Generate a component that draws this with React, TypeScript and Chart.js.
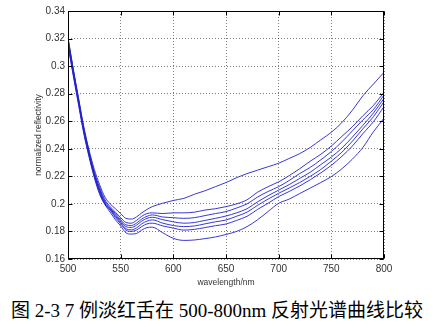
import React, { useEffect, useRef } from "react";
import { Chart, registerables } from "chart.js";

Chart.register(...registerables);

const wavelengths = [500, 505, 510, 515, 520, 525, 530, 535, 540, 545, 550, 555, 560, 565, 570, 575, 580,
  590, 600, 610, 620, 630, 640, 650, 660, 670, 680, 690, 700, 710, 720, 730, 740, 750, 760, 770, 780, 790, 800];

const seriesA = [0.321, 0.298, 0.277, 0.256, 0.239, 0.225, 0.214, 0.205, 0.2, 0.1965, 0.193, 0.1895, 0.189, 0.1905, 0.1935, 0.196, 0.198,
  0.2005, 0.2025, 0.204, 0.207, 0.2095, 0.2125, 0.2155, 0.219, 0.222, 0.2245, 0.227, 0.2295, 0.233, 0.2365, 0.241, 0.2465, 0.252, 0.259, 0.268, 0.2785, 0.287, 0.2955];
const seriesB = [0.319, 0.297, 0.276, 0.255, 0.238, 0.223, 0.212, 0.203, 0.198, 0.194, 0.19, 0.1865, 0.186, 0.188, 0.191, 0.193, 0.1935,
  0.193, 0.1935, 0.1935, 0.194, 0.1955, 0.1965, 0.198, 0.2, 0.203, 0.2085, 0.2125, 0.216, 0.2205, 0.2255, 0.231, 0.236, 0.242, 0.249, 0.256, 0.264, 0.2715, 0.281];
const seriesC = [0.318, 0.296, 0.275, 0.254, 0.237, 0.222, 0.211, 0.202, 0.197, 0.193, 0.1885, 0.1848, 0.1843, 0.186, 0.189, 0.191, 0.192,
  0.1905, 0.19, 0.1895, 0.19, 0.1915, 0.193, 0.1944, 0.197, 0.2, 0.205, 0.209, 0.2125, 0.217, 0.222, 0.2265, 0.232, 0.238, 0.245, 0.253, 0.261, 0.2685, 0.279];
const seriesD = [0.317, 0.295, 0.274, 0.253, 0.236, 0.221, 0.21, 0.201, 0.1965, 0.192, 0.1875, 0.1835, 0.1829, 0.1845, 0.1875, 0.1895, 0.1903,
  0.1885, 0.187, 0.186, 0.1865, 0.188, 0.1895, 0.1912, 0.1935, 0.1965, 0.2015, 0.206, 0.21, 0.214, 0.2185, 0.223, 0.2285, 0.234, 0.2405, 0.2485, 0.257, 0.266, 0.2766];
const seriesE = [0.32, 0.297, 0.275, 0.254, 0.236, 0.221, 0.209, 0.2, 0.196, 0.191, 0.1865, 0.182, 0.1812, 0.1825, 0.1855, 0.1875, 0.1884,
  0.186, 0.1843, 0.1835, 0.184, 0.1855, 0.187, 0.1883, 0.191, 0.194, 0.199, 0.2035, 0.2077, 0.2115, 0.2155, 0.22, 0.225, 0.231, 0.2375, 0.2455, 0.2545, 0.2633, 0.2742];
const seriesF = [0.316, 0.294, 0.273, 0.252, 0.235, 0.22, 0.208, 0.2, 0.1955, 0.19, 0.1855, 0.181, 0.18, 0.181, 0.1835, 0.1855, 0.186,
  0.184, 0.1824, 0.181, 0.1815, 0.1828, 0.1842, 0.1854, 0.188, 0.191, 0.196, 0.2005, 0.2053, 0.209, 0.213, 0.2175, 0.2225, 0.228, 0.2345, 0.242, 0.251, 0.2597, 0.2706];
const seriesG = [0.315, 0.293, 0.272, 0.251, 0.234, 0.219, 0.207, 0.1995, 0.194, 0.1885, 0.184, 0.179, 0.1781, 0.1785, 0.181, 0.1828, 0.1831,
  0.179, 0.175, 0.1735, 0.1738, 0.1748, 0.176, 0.1778, 0.18, 0.1835, 0.1885, 0.1945, 0.2004, 0.2035, 0.2075, 0.2115, 0.2155, 0.2198, 0.2255, 0.2325, 0.241, 0.2524, 0.2621];

const allSeries = [seriesA, seriesB, seriesC, seriesD, seriesE, seriesF, seriesG];

const xTicks = [500, 550, 600, 650, 700, 750, 800];
const yTicks = [0.16, 0.18, 0.2, 0.22, 0.24, 0.26, 0.28, 0.3, 0.32, 0.34];

const xTitle = "wavelength/nm";
const yTitle = "normalized reflectivity";
const caption = "图 2-3 7 例淡红舌在 500-800nm 反射光谱曲线比较";

const boxPlugin = {
  id: "matlabBox",
  afterDraw(chart: any) {
    const { ctx, chartArea } = chart;
    const { left, right, top, bottom } = chartArea;
    const xs = chart.scales.x;
    const ys = chart.scales.y;
    ctx.save();
    ctx.strokeStyle = "#000";
    ctx.lineWidth = 1;
    const L = Math.round(left) + 0.5;
    const R = Math.round(right) - 0.5;
    const T = Math.round(top) + 0.5;
    const B = Math.round(bottom) - 0.5;
    ctx.strokeRect(L, T, R - L, B - T);
    ctx.beginPath();
    const len = 4;
    xTicks.forEach((v) => {
      const px = Math.round(xs.getPixelForValue(v)) + 0.5;
      ctx.moveTo(px, B);
      ctx.lineTo(px, B - len);
      ctx.moveTo(px, T);
      ctx.lineTo(px, T + len);
    });
    yTicks.forEach((v) => {
      const py = Math.round(ys.getPixelForValue(v)) + 0.5;
      ctx.moveTo(L, py);
      ctx.lineTo(L + len, py);
      ctx.moveTo(R, py);
      ctx.lineTo(R - len, py);
    });
    ctx.stroke();
    ctx.restore();
  },
};

export default function App() {
  const ref = useRef<HTMLCanvasElement | null>(null);

  useEffect(() => {
    if (!ref.current) return;
    const datasets = allSeries.map((s) => ({
      data: wavelengths.map((w, i) => ({ x: w, y: s[i] })),
      borderColor: "rgba(35,35,205,0.9)",
      borderWidth: 1,
      pointRadius: 0,
      cubicInterpolationMode: "monotone" as const,
      fill: false,
    }));
    const tickFont = { family: "'Liberation Sans', Arial, sans-serif", size: 10 };
    const titleFont = { family: "'Liberation Sans', Arial, sans-serif", size: 8.5 };
    const chart = new Chart(ref.current, {
      type: "line",
      data: { datasets },
      options: {
        animation: false,
        responsive: false,
        maintainAspectRatio: false,
        layout: { padding: { left: 32, top: 11, right: 50, bottom: 0 } },
        plugins: { legend: { display: false }, tooltip: { enabled: false } },
        scales: {
          x: {
            type: "linear",
            min: 500,
            max: 800,
            afterBuildTicks: (s: any) => {
              s.ticks = xTicks.map((v) => ({ value: v }));
            },
            afterFit: (s: any) => {
              s.height = 31;
            },
            grid: { color: "rgba(0,0,0,0.5)", lineWidth: 1, drawTicks: false },
            border: { display: false, dash: [1, 2] },
            ticks: { font: tickFont, color: "#333", padding: 4, maxRotation: 0, callback: (v: any) => String(v) },
            title: { display: true, text: xTitle, font: titleFont, color: "#333", padding: { top: 2, bottom: 2 } },
          },
          y: {
            type: "linear",
            min: 0.16,
            max: 0.34,
            afterBuildTicks: (s: any) => {
              s.ticks = yTicks.map((v) => ({ value: v }));
            },
            afterFit: (s: any) => {
              s.width = 36;
            },
            grid: { color: "rgba(0,0,0,0.5)", lineWidth: 1, drawTicks: false },
            border: { display: false, dash: [1, 2] },
            ticks: { font: tickFont, color: "#333", padding: 3, callback: (v: any) => String(Number(Number(v).toFixed(2))) },
            title: { display: true, text: yTitle, font: titleFont, color: "#333", padding: { top: 2, bottom: 0 } },
          },
        },
      },
      plugins: [boxPlugin],
    });
    return () => chart.destroy();
  }, []);

  return (
    <div style={{ position: "absolute", left: 0, top: 0, width: 434, height: 333, background: "#fff" }}>
      <canvas ref={ref} width={434} height={290} style={{ display: "block", width: 434, height: 290 }} />
      <div
        style={{
          position: "absolute",
          left: 0,
          top: 298,
          width: 434,
          textAlign: "center",
          fontFamily: "'Liberation Serif', 'Noto Sans CJK SC', serif",
          fontSize: 19,
          lineHeight: "25px",
          color: "#000",
          whiteSpace: "nowrap",
        }}
      >
        {caption}
      </div>
    </div>
  );
}
